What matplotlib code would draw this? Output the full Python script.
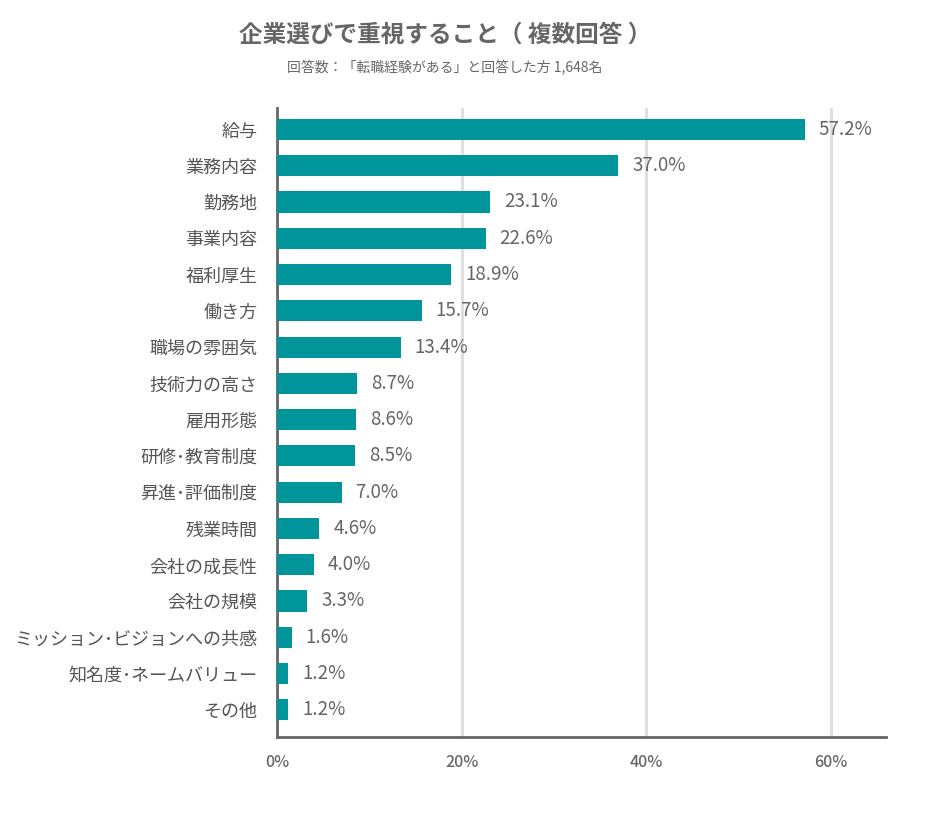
import matplotlib
matplotlib.use('Agg')
import matplotlib.pyplot as plt

plt.rcParams['font.family'] = ['Noto Sans CJK JP', 'DejaVu Sans']

categories = ['給与', '業務内容', '勤務地', '事業内容', '福利厚生', '働き方', '職場の雰囲気',
              '技術力の高さ', '雇用形態', '研修･教育制度', '昇進･評価制度', '残業時間',
              '会社の成長性', '会社の規模', 'ミッション･ビジョンへの共感', '知名度･ネームバリュー', 'その他']
values = [57.2, 37.0, 23.1, 22.6, 18.9, 15.7, 13.4, 8.7, 8.6, 8.5, 7.0, 4.6, 4.0, 3.3, 1.6, 1.2, 1.2]
xticks = [0, 20, 40, 60]

teal = '#00959A'
grey = '#666666'

fig = plt.figure(figsize=(9.51, 8.16), dpi=100)
ax = fig.add_axes([0.2913, 0.0968, 0.6404, 0.7708])

y = list(range(len(categories)))
ax.barh(y, values, height=0.58, color=teal, zorder=3)
for yi, v in zip(y, values):
    ax.text(v + 1.5, yi, '{:.1f}%'.format(v), va='center', ha='left', fontsize=13.5, color=grey)

ax.set_xlim(0, 66)
ax.set_ylim(len(categories) - 1 + 0.75, -0.59)
ax.set_yticks(y)
ax.set_yticklabels(categories, fontsize=13, color='#555555')
ax.set_xticks(xticks)
ax.set_xticklabels(['{}%'.format(t) for t in xticks], fontsize=11.5, color=grey, fontweight='medium')
ax.tick_params(axis='both', length=0)
ax.tick_params(axis='x', pad=12)
ax.tick_params(axis='y', pad=14)
for t in xticks[1:]:
    ax.axvline(t, color='#dddddd', linewidth=2, zorder=1)
for s in ['top', 'right']:
    ax.spines[s].set_visible(False)
for s in ['left', 'bottom']:
    ax.spines[s].set_color('#666666')
    ax.spines[s].set_linewidth(2)

fig.text(445 / 951, 1 - 35 / 816, '企業選びで重視すること（ 複数回答 ）', ha='center', va='center',
         fontsize=17, fontweight='bold', color=grey)
fig.text(445 / 951, 1 - 68 / 816, '回答数：「転職経験がある」と回答した方 1,648名', ha='center', va='center',
         fontsize=10, color=grey)

fig.savefig('out.png', dpi=100)
